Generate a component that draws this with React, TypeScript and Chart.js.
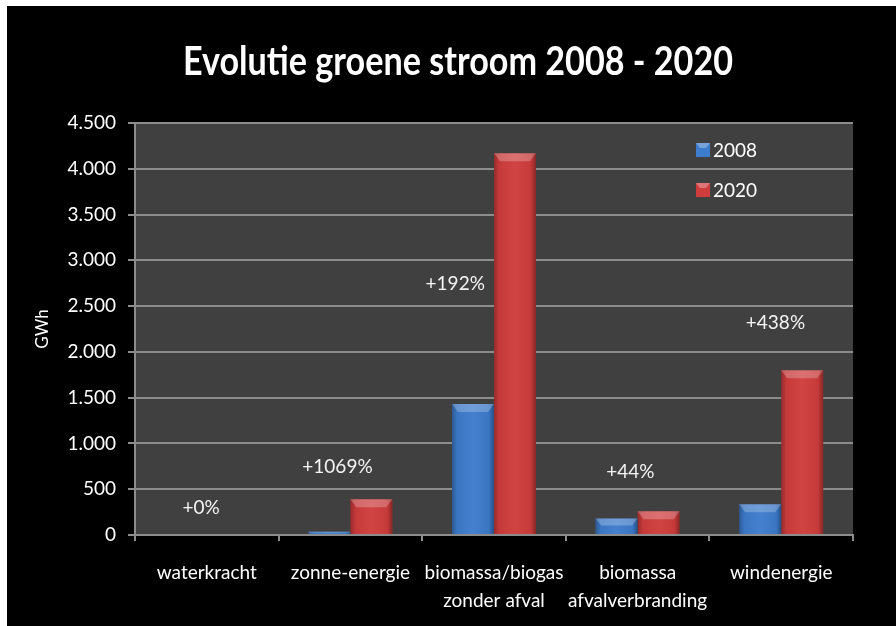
import { useEffect, useRef } from 'react';
import { Chart, registerables } from 'chart.js';

Chart.register(...registerables);

const titleText = 'Evolutie groene stroom 2008 - 2020';
const yAxisTitle = 'GWh';
const categories: string[][] = [
  ['waterkracht'],
  ['zonne-energie'],
  ['biomassa/biogas', 'zonder afval'],
  ['biomassa', 'afvalverbranding'],
  ['windenergie'],
];
const seriesNames = ['2008', '2020'];
const values2008 = [0, 35, 1430, 180, 335];
const values2020 = [0, 390, 4170, 260, 1800];
const yTickLabels = ['0', '500', '1.000', '1.500', '2.000', '2.500', '3.000', '3.500', '4.000', '4.500'];
const growthLabels = ['+0%', '+1069%', '+192%', '+44%', '+438%'];
// anchor of each growth label, in data units (category index, GWh)
const growthAnchorCategory = [-0.04, 0.91, 1.73, 2.95, 3.96];
const growthAnchorValue = [295, 746, 2740, 691, 2318];

const FONT = 'Lato, "Open Sans", sans-serif';
const BLUE = '#3d7bcc';
const RED = '#cf3c3c';
const GRID = '#8c8c8c';

const decorPlugin = {
  id: 'decor',
  beforeDraw(chart: any) {
    const { ctx, chartArea: a, width, height } = chart;
    ctx.save();
    ctx.fillStyle = '#000';
    ctx.fillRect(0, 0, width, height);
    ctx.fillStyle = '#404040';
    ctx.fillRect(a.left, a.top, a.right - a.left, a.bottom - a.top);
    ctx.restore();
  },
  afterDatasetsDraw(chart: any) {
    const { ctx } = chart;
    ctx.save();
    chart.data.datasets.forEach((ds: any, di: number) => {
      const meta = chart.getDatasetMeta(di);
      meta.data.forEach((bar: any) => {
        const w = bar.width;
        const left = bar.x - w / 2;
        const right = bar.x + w / 2;
        const top = Math.min(bar.y, bar.base);
        const bottom = Math.max(bar.y, bar.base);
        const h = bottom - top;
        if (h < 1) return;
        const g = ctx.createLinearGradient(left, 0, right, 0);
        g.addColorStop(0, 'rgba(0,0,0,0.28)');
        g.addColorStop(0.12, 'rgba(0,0,0,0.05)');
        g.addColorStop(0.5, 'rgba(255,255,255,0.04)');
        g.addColorStop(0.88, 'rgba(0,0,0,0.05)');
        g.addColorStop(1, 'rgba(0,0,0,0.35)');
        ctx.fillStyle = g;
        ctx.fillRect(left, top, w, h);
        const capH = Math.min(8, h * 0.45);
        const inset = Math.min(6, capH * 0.8);
        ctx.beginPath();
        ctx.moveTo(left, top);
        ctx.lineTo(right, top);
        ctx.lineTo(right - inset, top + capH);
        ctx.lineTo(left + inset, top + capH);
        ctx.closePath();
        ctx.fillStyle = 'rgba(255,255,255,0.24)';
        ctx.fill();
      });
    });
    ctx.restore();
  },
  afterDraw(chart: any) {
    const { ctx, chartArea: a, scales } = chart;
    ctx.save();
    // title
    ctx.fillStyle = '#ffffff';
    ctx.font = `bold 40px ${FONT}`;
    ctx.textAlign = 'center';
    ctx.textBaseline = 'middle';
    const tw = ctx.measureText(titleText).width;
    const sx = 550 / tw;
    ctx.save();
    ctx.translate(451, 56);
    ctx.scale(sx, 1);
    ctx.fillText(titleText, 0, 0);
    ctx.restore();
    // y axis title
    ctx.save();
    ctx.font = `17px ${FONT}`;
    ctx.translate(36, (a.top + a.bottom) / 2);
    ctx.rotate(-Math.PI / 2);
    ctx.fillText(yAxisTitle, 0, 0);
    ctx.restore();
    // growth labels
    ctx.font = `19px ${FONT}`;
    ctx.fillStyle = '#f4f4f4';
    growthLabels.forEach((t, i) => {
      const x = scales.x.getPixelForValue(growthAnchorCategory[i]);
      const y = scales.y.getPixelForValue(growthAnchorValue[i]);
      ctx.fillText(t, x, y);
    });
    // legend
    const colors = [BLUE, RED];
    ctx.font = `19px ${FONT}`;
    ctx.textAlign = 'left';
    seriesNames.forEach((n, i) => {
      const cy = a.top + 27 + i * 40;
      const bx = a.right - 157;
      ctx.fillStyle = colors[i];
      ctx.fillRect(bx, cy - 7, 14, 14);
      ctx.fillStyle = 'rgba(255,255,255,0.3)';
      ctx.beginPath();
      ctx.moveTo(bx, cy - 7);
      ctx.lineTo(bx + 14, cy - 7);
      ctx.lineTo(bx + 10, cy - 2);
      ctx.lineTo(bx + 4, cy - 2);
      ctx.closePath();
      ctx.fill();
      ctx.fillStyle = '#ffffff';
      ctx.fillText(n, bx + 17, cy + 1);
    });
    ctx.restore();
  },
};

export default function App() {
  const ref = useRef<HTMLCanvasElement | null>(null);
  useEffect(() => {
    if (!ref.current) return;
    const chart = new Chart(ref.current, {
      type: 'bar',
      data: {
        labels: categories,
        datasets: [
          { label: seriesNames[0], data: values2008, backgroundColor: BLUE, borderWidth: 0, categoryPercentage: 0.585, barPercentage: 1 },
          { label: seriesNames[1], data: values2020, backgroundColor: RED, borderWidth: 0, categoryPercentage: 0.585, barPercentage: 1 },
        ],
      },
      options: {
        animation: false,
        responsive: false,
        devicePixelRatio: 1,
        layout: { padding: { top: 117, right: 43, bottom: 0, left: 0 } },
        plugins: { legend: { display: false }, title: { display: false }, tooltip: { enabled: false } },
        scales: {
          x: {
            afterFit: (s: any) => { s.height = 91; },
            ticks: { color: '#ffffff', font: { family: FONT, size: 19, lineHeight: 1.47 }, padding: 18, maxRotation: 0, autoSkip: false },
            grid: { drawOnChartArea: false, drawTicks: true, tickLength: 6, color: GRID, lineWidth: 2, offset: true },
            border: { color: GRID, width: 2 },
          },
          y: {
            min: 0,
            max: 4500,
            afterFit: (s: any) => { s.width = 128; },
            ticks: {
              stepSize: 500,
              color: '#ffffff',
              font: { family: FONT, size: 19 },
              padding: 12,
              callback: (v: any) => yTickLabels[Math.round(Number(v) / 500)],
            },
            grid: { color: GRID, lineWidth: 2, tickLength: 7, drawTicks: true },
            border: { color: GRID, width: 2 },
          },
        },
      },
      plugins: [decorPlugin],
    });
    return () => chart.destroy();
  }, []);
  return (
    <div style={{ position: 'absolute', left: 0, top: 0, width: 896, height: 626, background: '#fff', overflow: 'hidden' }}>
      <canvas ref={ref} width={889} height={620} style={{ position: 'absolute', left: 7, top: 6, width: 889, height: 620 }} />
    </div>
  );
}
